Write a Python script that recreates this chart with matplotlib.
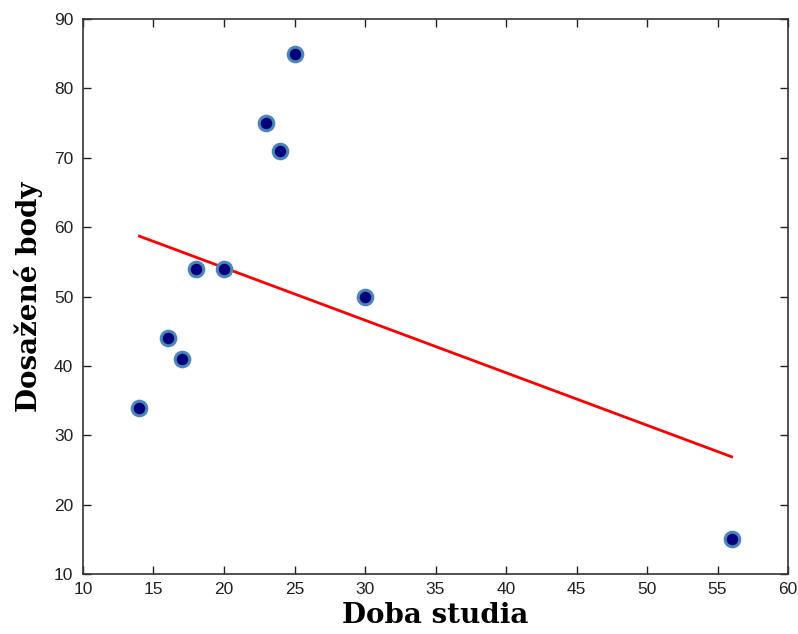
import matplotlib
matplotlib.use('Agg')
import matplotlib.pyplot as plt

# data
doba = [14, 16, 17, 18, 20, 23, 24, 25, 30, 56]
body = [34, 44, 41, 54, 54, 75, 71, 85, 50, 15]
fit_x = [14, 56]
fit_y = [58.7, 26.9]

xticks = [10, 15, 20, 25, 30, 35, 40, 45, 50, 55, 60]
yticks = [10, 20, 30, 40, 50, 60, 70, 80, 90]

fig = plt.figure(figsize=(7.98, 6.34), dpi=100)
ax = fig.add_axes([0.104, 0.0946, 0.8835, 0.8754])

ax.plot(doba, body, 'o', color='#00007a', markeredgecolor='#4a86b8',
        markersize=10.5, markeredgewidth=2.2, zorder=3)
ax.plot(fit_x, fit_y, color='red', lw=2, zorder=2)

ax.set_xlim(10, 60)
ax.set_ylim(10, 90)
ax.set_xticks(xticks)
ax.set_yticks(yticks)
ax.tick_params(direction='in', top=True, right=True, length=6, width=1,
               labelsize=12.5, colors='#222222')
ax.tick_params(axis='x', pad=6)
ax.tick_params(axis='y', pad=7)
for lab in ax.get_xticklabels() + ax.get_yticklabels():
    lab.set_family('Liberation Sans')
for s in ax.spines.values():
    s.set_linewidth(1.2)
    s.set_color('#333333')

ax.set_xlabel('Doba studia', fontsize=20, fontweight='bold',
              family='DejaVu Serif', labelpad=3)
ax.set_ylabel('Dosažené body', fontsize=20, fontweight='bold',
              family='DejaVu Serif', labelpad=8)

fig.savefig('out.png', dpi=100)
